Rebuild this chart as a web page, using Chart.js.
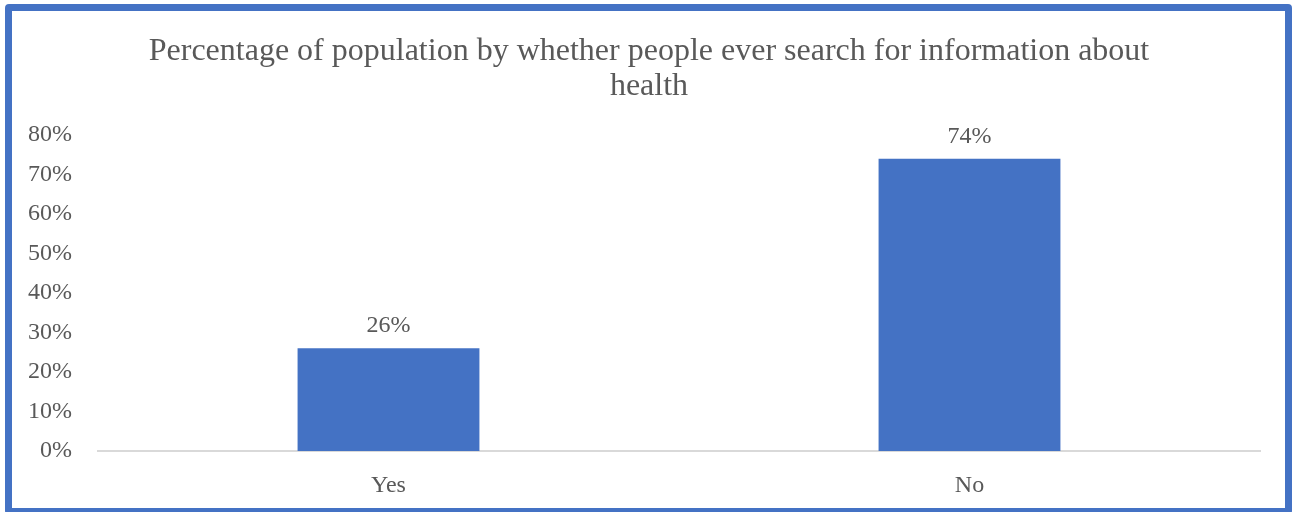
<!DOCTYPE html>
<html>
<head>
<meta charset="utf-8">
<script src="https://cdn.jsdelivr.net/npm/chart.js@4.4.1/dist/chart.umd.min.js"></script>
<style>
  html, body { margin: 0; padding: 0; background: #ffffff; }
  #wrap { position: relative; width: 1292px; height: 512px; overflow: hidden; }
  #frame {
    position: absolute; left: 5px; top: 4px; width: 1273px; height: 497px;
    border: 7px solid #4472C4; border-radius: 4px; pointer-events: none;
  }
  canvas { position: absolute; left: 0; top: 0; }
</style>
</head>
<body>
<div id="wrap">
  <canvas id="chart" width="1292" height="512"></canvas>
  <div id="frame"></div>
</div>
<script>
const titleLines = ['Percentage of population by whether people ever search for information about', 'health'];
const categories = ['Yes', 'No'];
const shares = [26, 74];        // percent of population
const axisMax = 80;
const axisStep = 10;

const textColor = '#595959';
const serif = "'Liberation Serif', 'Times New Roman', serif";

// Writes each bar's percentage just above its top edge
const valueLabels = {
  id: 'valueLabels',
  afterDatasetsDraw(chart) {
    const ctx = chart.ctx;
    const meta = chart.getDatasetMeta(0);
    ctx.save();
    ctx.font = '24px ' + serif;
    ctx.fillStyle = textColor;
    ctx.textAlign = 'center';
    ctx.textBaseline = 'alphabetic';
    meta.data.forEach((bar, i) => {
      ctx.fillText(shares[i] + '%', bar.x, bar.y - 16);
    });
    ctx.restore();
  }
};

new Chart(document.getElementById('chart'), {
  type: 'bar',
  data: {
    labels: categories,
    datasets: [{
      data: shares,
      backgroundColor: '#4472C4',
      borderWidth: 0,
      categoryPercentage: 1,
      barPercentage: 0.313
    }]
  },
  options: {
    responsive: false,
    animation: false,
    layout: { padding: { top: 0, right: 0, bottom: 0, left: 6 } },
    plugins: {
      legend: { display: false },
      tooltip: { enabled: false },
      title: {
        display: true,
        text: titleLines,
        color: textColor,
        font: { family: serif, size: 32, weight: 'normal', lineHeight: 1.1 },
        padding: { top: 34, bottom: 30.6 }
      }
    },
    scales: {
      x: {
        grid: { display: false },
        border: { display: true, color: '#d9d9d9', width: 2 },
        ticks: { color: textColor, font: { family: serif, size: 24 }, padding: 12 },
        afterFit(scale) { scale.height = 61; }
      },
      y: {
        min: 0,
        max: axisMax,
        grid: { display: false },
        border: { display: false },
        ticks: {
          stepSize: axisStep,
          color: textColor,
          font: { family: serif, size: 24 },
          padding: 18,
          callback: v => v + '%'
        },
        afterFit(scale) { scale.width = 92; }
      },
      // empty right-hand margin beside the plot
      yRight: {
        position: 'right',
        min: 0,
        max: axisMax,
        grid: { display: false },
        border: { display: false },
        ticks: { display: false },
        afterFit(scale) { scale.width = 32; }
      }
    }
  },
  plugins: [valueLabels]
});
</script>
</body>
</html>
